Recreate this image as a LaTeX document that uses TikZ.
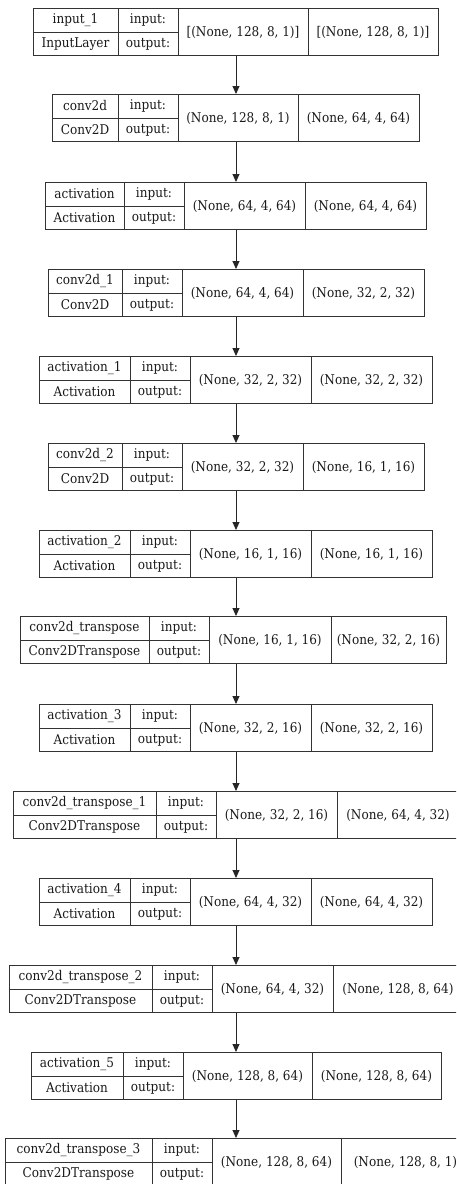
\documentclass[tikz,border=0pt]{standalone}
\usepackage{fontspec}
\setmainfont{DejaVu Serif Condensed}
\usepackage{tikz}
\usetikzlibrary{arrows.meta}

\tikzset{
  layerbox/.style={draw=black!80, line width=0.9pt, inner sep=0pt, minimum height=47pt, anchor=north west},
  cell/.style={draw=black!80, line width=0.9pt},
  txt/.style={inner sep=0pt, font=\fontsize{13.4}{15}\selectfont, text=black!90},
  arr/.style={draw=black!85, line width=0.9pt, -{Triangle[length=8pt,width=7pt]}}
}

\begin{document}
\begin{tikzpicture}[x=1pt,y=-1pt]
  \useasboundingbox (0,0) rectangle (456,1184);
  \clip (0,0) rectangle (456,1184);
  \coordinate (ax) at (236,0);
  % one layer per row: index/top/left/div1/div2/div3/right/name/type/in/out
  \foreach \i/\t/\l/\a/\b/\c/\r/\nm/\ty/\vin/\vout in {
    0/8/33/118/178/308/438/{input\_1}/{InputLayer}/{[(None, 128, 8, 1)]}/{[(None, 128, 8, 1)]},
    1/94/52/118/178/298/419/{conv2d}/{Conv2D}/{(None, 128, 8, 1)}/{(None, 64, 4, 64)},
    2/182/45/124/184/305/426/{activation}/{Activation}/{(None, 64, 4, 64)}/{(None, 64, 4, 64)},
    3/269/48/122/182/303/424/{conv2d\_1}/{Conv2D}/{(None, 64, 4, 64)}/{(None, 32, 2, 32)},
    4/356/39/130/190/311/432/{activation\_1}/{Activation}/{(None, 32, 2, 32)}/{(None, 32, 2, 32)},
    5/443/48/122/182/303/424/{conv2d\_2}/{Conv2D}/{(None, 32, 2, 32)}/{(None, 16, 1, 16)},
    6/530/39/130/190/311/432/{activation\_2}/{Activation}/{(None, 16, 1, 16)}/{(None, 16, 1, 16)},
    7/616/20/149/209/331/446/{conv2d\_transpose}/{Conv2DTranspose}/{(None, 16, 1, 16)}/{(None, 32, 2, 16)},
    8/704/39/130/190/311/432/{activation\_3}/{Activation}/{(None, 32, 2, 16)}/{(None, 32, 2, 16)},
    9/791/13/156/216/337/459/{conv2d\_transpose\_1}/{Conv2DTranspose}/{(None, 32, 2, 16)}/{(None, 64, 4, 32)},
    10/878/39/130/190/311/432/{activation\_4}/{Activation}/{(None, 64, 4, 32)}/{(None, 64, 4, 32)},
    11/965/9/152/212/333/463/{conv2d\_transpose\_2}/{Conv2DTranspose}/{(None, 64, 4, 32)}/{(None, 128, 8, 64)},
    12/1052/31/123/183/312/441/{activation\_5}/{Activation}/{(None, 128, 8, 64)}/{(None, 128, 8, 64)},
    13/1138/5/152/212/341/470/{conv2d\_transpose\_3}/{Conv2DTranspose}/{(None, 128, 8, 64)}/{(None, 128, 8, 1)}}
  {
    \pgfmathsetmacro\w{\r-\l}
    \node[layerbox, minimum width=\w pt] (b\i) at (\l,\t) {};
    \draw[cell] (\a,\t) -- (\a,\t+47);
    \draw[cell] (\b,\t) -- (\b,\t+47);
    \draw[cell] (\c,\t) -- (\c,\t+47);
    \draw[cell] (\l,\t+24) -- (\b,\t+24);
    \node[txt] (n\i) at ({(\l+\a)/2},\t+12) {\nm};
    \node[txt] (t\i) at ({(\l+\a)/2},\t+36) {\ty};
    \node[txt] (i\i) at ({(\a+\b)/2},\t+12) {input:};
    \node[txt] (o\i) at ({(\a+\b)/2},\t+36) {output:};
    \node[txt] (vi\i) at ({(\b+\c)/2},\t+24) {\vin};
    \node[txt] (vo\i) at ({(\c+\r)/2},\t+24) {\vout};
  }
  \foreach \i [evaluate=\i as \j using int(\i+1)] in {0,...,12}
    \draw[arr] (b\i.south -| ax) -- (b\j.north -| ax);
\end{tikzpicture}
\end{document}
